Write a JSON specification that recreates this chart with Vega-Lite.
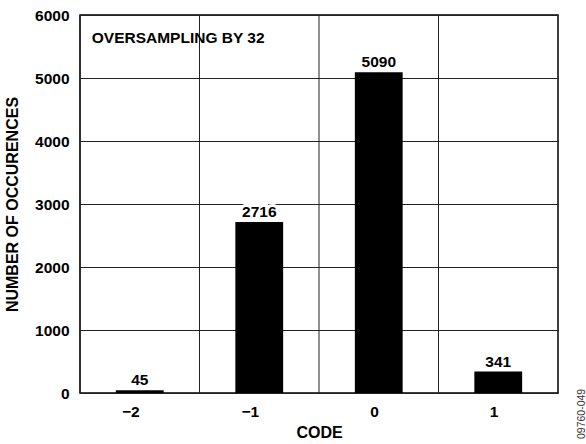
{
  "$schema": "https://vega.github.io/schema/vega-lite/v6.json",
  "width": 478,
  "height": 378,
  "autosize": {"type": "none"},
  "padding": {"left": 80, "top": 15, "right": 28, "bottom": 51},
  "background": "white",
  "config": {
    "font": "Liberation Sans",
    "view": {"stroke": "black", "strokeWidth": 1.5},
    "axis": {
      "labelFont": "Liberation Sans",
      "labelFontWeight": "bold",
      "labelFontSize": 15.5,
      "labelColor": "black",
      "titleFont": "Liberation Sans",
      "titleFontWeight": "bold",
      "titleFontSize": 16,
      "titleColor": "black",
      "gridColor": "#222222",
      "gridOpacity": 1,
      "gridWidth": 1,
      "ticks": false,
      "domain": false
    }
  },
  "data": {
    "values": [
      {"code": "−2", "count": 45},
      {"code": "−1", "count": 2716},
      {"code": "0", "count": 5090},
      {"code": "1", "count": 341}
    ]
  },
  "layer": [
    {
      "mark": {"type": "rule", "color": "#222222", "strokeWidth": 1},
      "encoding": {
        "x": {"field": "code", "type": "nominal", "sort": ["−2", "−1", "0", "1"], "bandPosition": 0}
      }
    },
    {
      "mark": {"type": "bar", "color": "black", "width": {"band": 0.4}},
      "encoding": {
        "x": {
          "field": "code",
          "type": "nominal",
          "sort": ["−2", "−1", "0", "1"],
          "scale": {"paddingInner": 0, "paddingOuter": 0},
          "axis": {"title": "CODE", "grid": false, "labelAngle": 0, "labelPadding": 18, "titlePadding": 5}
        },
        "y": {
          "field": "count",
          "type": "quantitative",
          "scale": {"domain": [0, 6000], "nice": false},
          "axis": {"title": "NUMBER OF OCCURENCES", "format": "d", "values": [0, 1000, 2000, 3000, 4000, 5000, 6000], "grid": true, "labelPadding": 11, "titlePadding": 14}
        }
      }
    },
    {
      "mark": {"type": "text", "baseline": "bottom", "dy": -2, "stroke": "white", "strokeWidth": 6, "fontWeight": "bold", "fontSize": 15.5, "color": "white"},
      "encoding": {
        "x": {"field": "code", "type": "nominal", "sort": ["−2", "−1", "0", "1"]},
        "y": {"field": "count", "type": "quantitative"},
        "text": {"field": "count", "type": "quantitative"}
      }
    },
    {
      "mark": {"type": "text", "baseline": "bottom", "dy": -2, "fontWeight": "bold", "fontSize": 15.5, "color": "black"},
      "encoding": {
        "x": {"field": "code", "type": "nominal", "sort": ["−2", "−1", "0", "1"]},
        "y": {"field": "count", "type": "quantitative"},
        "text": {"field": "count", "type": "quantitative"}
      }
    },
    {
      "data": {"values": [{"note": "OVERSAMPLING BY 32"}]},
      "mark": {"type": "text", "align": "left", "baseline": "middle", "dx": -48, "fontWeight": "bold", "fontSize": 15.5, "color": "black"},
      "encoding": {
        "x": {"datum": "−2"},
        "y": {"datum": 5630},
        "text": {"field": "note"}
      }
    },
    {
      "data": {"values": [{"note": "09760-049"}]},
      "mark": {"type": "text", "align": "left", "baseline": "middle", "angle": 270, "dx": -46, "dy": 84, "fontSize": 10.5, "color": "#333333"},
      "encoding": {
        "x": {"datum": "1"},
        "y": {"datum": 0},
        "text": {"field": "note"}
      }
    }
  ]
}
